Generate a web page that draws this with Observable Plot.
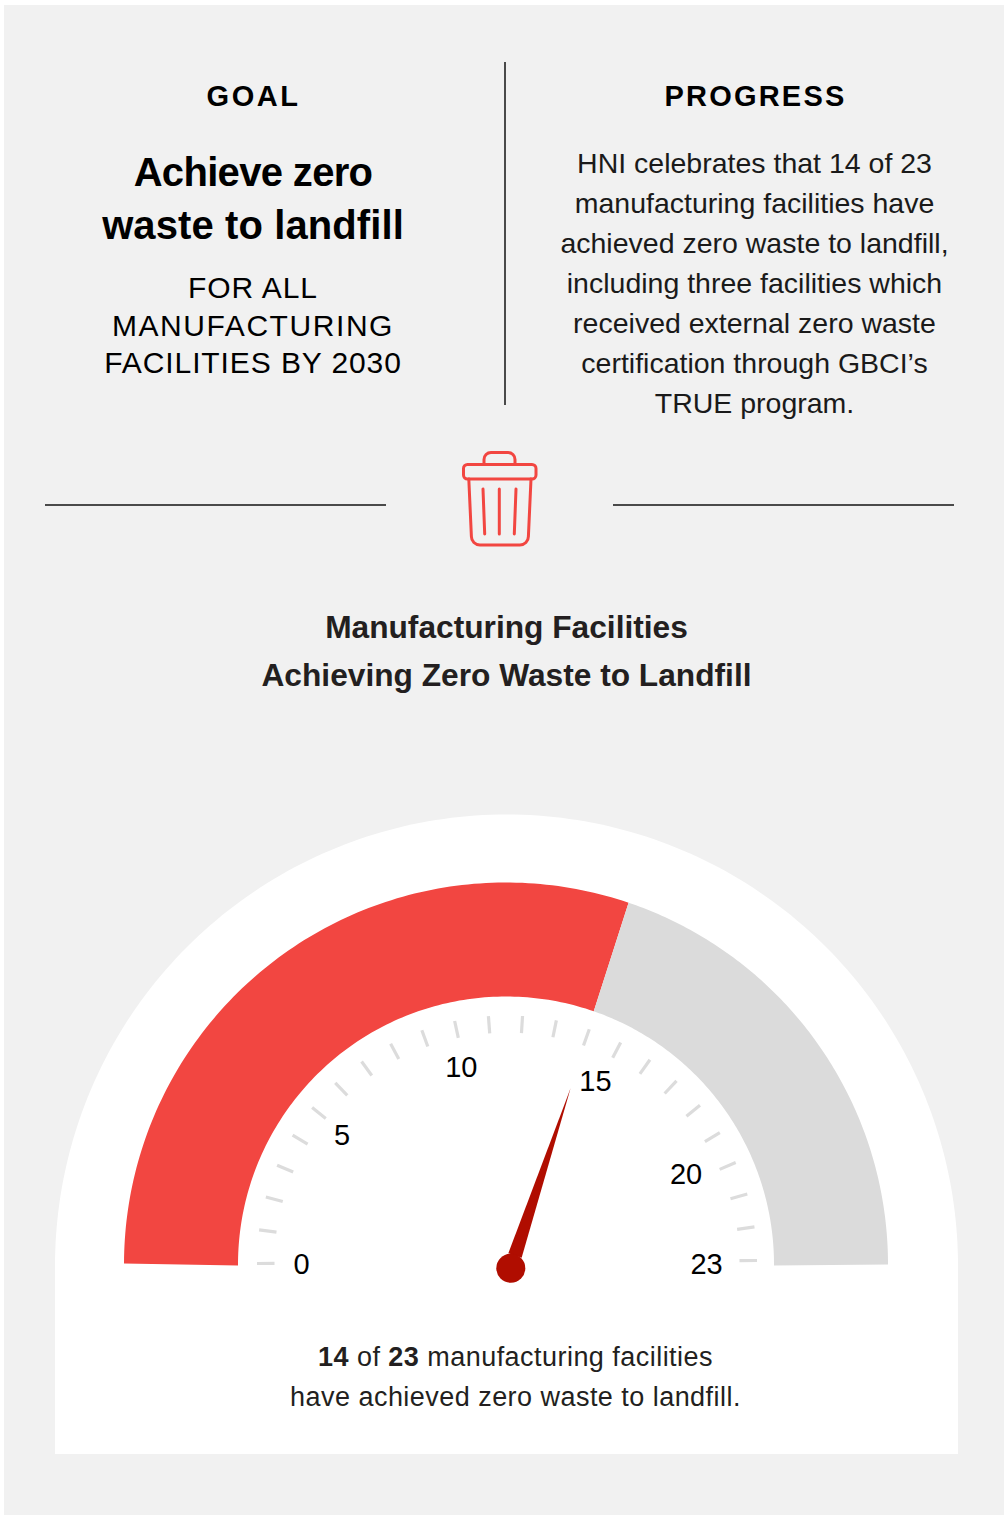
<!DOCTYPE html>
<html><head><meta charset="utf-8">
<script src="https://cdn.jsdelivr.net/npm/d3@7"></script>
<script src="https://cdn.jsdelivr.net/npm/@observablehq/plot@0.6"></script>
<style>
html,body{margin:0;padding:0;background:#fff;}
body{width:1004px;height:1515px;overflow:hidden;position:relative;font-family:"Liberation Sans",sans-serif;color:#000;}
#panel{position:absolute;left:4px;top:5px;right:0;bottom:0;background:#f1f1f1;}
.t{position:absolute;text-align:center;white-space:nowrap;}
.rule{position:absolute;background:#4a4a4a;}
#gauge{position:absolute;left:0;top:800px;}
#gauge svg{display:block;background:transparent;}
#goalHead,#progressHead{top:81px;font-size:29px;line-height:30px;font-weight:700;}
#goalHead{left:0;width:507px;letter-spacing:2.5px;}
#progressHead{left:506px;width:499px;letter-spacing:2.2px;}
#goalMain{left:0;width:506px;top:146px;font-size:40px;line-height:53px;font-weight:700;}
#goalSub{left:0;width:506px;top:269px;font-size:30px;line-height:37.5px;}
#progressBody{left:506px;width:497px;top:143px;font-size:28.500px;line-height:40px;color:#1a1a1a;}
#chartTitle{left:0;width:1013px;top:603px;font-size:31.700px;line-height:48px;font-weight:700;color:#231f20;}
#caption{left:55px;width:903px;top:1320px;height:134px;background:#fff;color:#231f20;font-size:27px;line-height:40px;padding:17px 0 0 18px;box-sizing:border-box;letter-spacing:.46px;}
</style></head>
<body>
<div id="panel"></div>
<div class="rule" style="left:504px;top:62px;width:2px;height:343px"></div>
<div class="rule" style="left:45px;top:504px;width:341px;height:2px"></div>
<div class="rule" style="left:613px;top:504px;width:341px;height:2px"></div>
<div class="t" id="goalHead">GOAL</div>
<div class="t" id="goalMain"><span style="letter-spacing:-.67px">Achieve zero</span><br><span style="letter-spacing:.1px">waste to landfill</span></div>
<div class="t" id="goalSub"><span style="letter-spacing:.95px">FOR ALL</span><br><span style="letter-spacing:1.57px">MANUFACTURING</span><br><span style="letter-spacing:.9px">FACILITIES BY 2030</span></div>
<div class="t" id="progressHead">PROGRESS</div>
<div class="t" id="progressBody">HNI celebrates that 14 of 23<br>manufacturing facilities have<br>achieved zero waste to landfill,<br>including three facilities which<br>received external zero waste<br>certification through GBCI’s<br>TRUE program.</div>
<svg style="position:absolute;left:0;top:0;pointer-events:none" width="1004" height="560" fill="none" stroke="#f24641" stroke-width="3" stroke-linecap="round" stroke-linejoin="round">
  <path d="M484 464v-4.500a7 7 0 0 1 7-7h17a7 7 0 0 1 7 7V464"/>
  <rect x="463.500" y="464.500" width="72.500" height="14.500" rx="4"/>
  <path d="M468.800 479l2.600 57.500a8.500 8.500 0 0 0 8.500 8.500h40a8.500 8.500 0 0 0 8.500-8.500l2.600-57.500"/>
  <path d="M483 489l1.700 45M499.300 489v45M516 489l-1.700 45"/>
</svg>
<div class="t" id="chartTitle">Manufacturing Facilities<br>Achieving Zero Waste to Landfill</div>
<div id="gauge"></div>
<div class="t" id="caption"><b>14</b> of <b>23</b> manufacturing facilities<br>have achieved zero waste to landfill.</div>
<script>
const achieved = 14;
const total = 23;
const tickValues = d3.range(0, total + 1);
const labelValues = [0, 5, 10, 15, 20, 23];

// layout of the dial, in scale units (1 unit = 1 px, origin at the dial centre)
const rad = Math.PI / 180;
const R = {dome: 451.5, outer: 382, inner: 268, tickIn: 232.5, tickOut: 250, needle: 190, hub: 14.5};
const deg = v => v / total * 180;
const polar = (a, r, cx = 0, cy = 0, squash = 1) => [cx - r * Math.cos(a * rad), cy + squash * r * Math.sin(a * rad)];

const needleAngle = deg(achieved) - 1.2;
const hub = {x: 4.3, y: -3.7};
const tickCentre = {x: 0.5, y: 2.5, turn: -0.35, squash: 0.986};
const labelPlace = {0: [205, 0], 5: [209, -1], 10: [202, -1.2], 15: [203, -1.4], 20: [201, -3.2], 23: [200, 0]};

// each end of a band has its own outer and inner angle: the artwork's ends are not quite radial
const band = (outer0, outer1, inner0, inner1) => d3.range(0, 121).map(i => {
  const t = i / 120;
  const [x1, y1] = polar(inner0 + (inner1 - inner0) * t, R.inner, 0, -0.5);
  const [x2, y2] = polar(outer0 + (outer1 - outer0) * t, R.outer, 0, -0.5);
  return {x1, y1, x2, y2};
});
const splitOuter = deg(achieved) - 0.85;
const splitInner = deg(achieved) - 0.45;
const dome = d3.range(0, 181).map(a => {
  const [x, y] = polar(a, R.dome, 0.5, -2);
  return {x, y};
});
const tip = polar(needleAngle, R.needle, hub.x, hub.y);
const baseC = polar(needleAngle, 13.3, hub.x, hub.y);
const baseL = polar(needleAngle - 90, 7, baseC[0], baseC[1]);
const baseR = polar(needleAngle + 90, 7, baseC[0], baseC[1]);
const needle = [baseL, tip, baseR].map(([x, y]) => ({x, y}));
const tickAt = (v, r) => polar(deg(v) + tickCentre.turn, r, tickCentre.x, tickCentre.y, tickCentre.squash);
const labelAt = v => polar(deg(v) + labelPlace[v][1], labelPlace[v][0]);

const plot = Plot.plot({
  width: 1004, height: 520,
  marginTop: 0, marginRight: 0, marginBottom: 0, marginLeft: 0,
  style: {background: "transparent", fontFamily: "Liberation Sans, sans-serif"},
  x: {domain: [-506, 498], range: [0, 1004], axis: null},
  y: {domain: [464, -56], range: [0, 520], axis: null},
  marks: [
    Plot.areaY(dome, {x: "x", y1: -56, y2: "y", fill: "#fff"}),
    Plot.area(band(0.15, splitOuter, -0.2, splitInner), {x1: "x1", y1: "y1", x2: "x2", y2: "y2", fill: "#f24641"}),
    Plot.area(band(splitOuter, 180, splitInner, 180.2), {x1: "x1", y1: "y1", x2: "x2", y2: "y2", fill: "#dbdbdb"}),
    Plot.link(tickValues, {
      x1: v => tickAt(v, R.tickIn)[0],
      y1: v => tickAt(v, R.tickIn)[1],
      x2: v => tickAt(v, R.tickOut)[0],
      y2: v => tickAt(v, R.tickOut)[1],
      stroke: "#dcdcdc", strokeWidth: 3.2
    }),
    Plot.text(labelValues, {
      x: v => labelAt(v)[0],
      y: v => labelAt(v)[1],
      text: v => String(v),
      fontSize: 29, fill: "#000", textAnchor: "middle"
    }),
    Plot.line(needle, {x: "x", y: "y", fill: "#b00d00", stroke: "none"}),
    Plot.dot([hub], {x: "x", y: "y", r: R.hub, fill: "#b00d00", stroke: "none"})
  ]
});
document.getElementById("gauge").appendChild(plot);
</script>
</body></html>
